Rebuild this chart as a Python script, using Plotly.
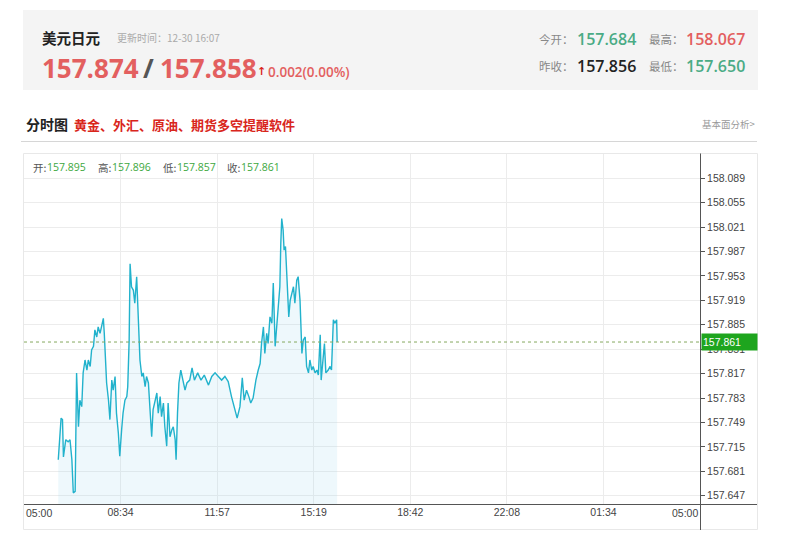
import plotly.graph_objects as go

# USD/JPY intraday (分时) quotes, 05:00 session start
times = [
    "06:13", "06:19", "06:22", "06:24", "06:29", "06:34", "06:38", "06:42", "06:45", "06:49",
    "06:52", "06:56", "06:59", "07:03", "07:06", "07:10", "07:14", "07:17", "07:21", "07:24",
    "07:28", "07:31", "07:35", "07:38", "07:42", "07:46", "07:49", "07:51", "07:56", "08:00",
    "08:03", "08:07", "08:10", "08:14", "08:17", "08:21", "08:24", "08:28", "08:31", "08:35",
    "08:39", "08:41", "08:44", "08:46", "08:49", "08:53", "08:56", "09:00", "09:02", "09:05",
    "09:07", "09:11", "09:14", "09:18", "09:21", "09:25", "09:28", "09:32", "09:35", "09:39",
    "09:43", "09:46", "09:50", "09:53", "09:57", "10:00", "10:04", "10:07", "10:11", "10:15",
    "10:18", "10:22", "10:24", "10:27", "10:30", "10:34", "10:37", "10:43", "10:47", "10:53",
    "10:58", "11:03", "11:10", "11:17", "11:24", "11:33", "11:40", "11:47", "11:54", "12:01",
    "12:08", "12:15", "12:22", "12:29", "12:34", "12:40", "12:45", "12:49", "12:54", "12:59",
    "13:03", "13:08", "13:14", "13:19", "13:23", "13:26", "13:30", "13:33", "13:37", "13:40",
    "13:44", "13:48", "13:51", "13:55", "13:58", "14:02", "14:05", "14:07", "14:09", "14:12",
    "14:14", "14:17", "14:21", "14:24", "14:27", "14:30", "14:34", "14:37", "14:41", "14:44",
    "14:48", "14:52", "14:55", "14:59", "15:02", "15:06", "15:09", "15:13", "15:16", "15:20",
    "15:24", "15:27", "15:31", "15:33", "15:36", "15:40", "15:43", "15:48", "15:52", "15:55",
    "15:59", "16:02", "16:06", "16:07",
]
prices = [
    157.697, 157.755, 157.753, 157.701, 157.725, 157.722, 157.725, 157.697, 157.651, 157.653,
    157.818, 157.743, 157.780, 157.771, 157.818, 157.836, 157.822, 157.836, 157.827, 157.850,
    157.855, 157.878, 157.868, 157.882, 157.873, 157.887, 157.894, 157.873, 157.804, 157.780,
    157.753, 157.808, 157.794, 157.813, 157.762, 157.734, 157.702, 157.739, 157.762, 157.780,
    157.785, 157.799, 157.864, 157.970, 157.938, 157.933, 157.915, 157.952, 157.919, 157.859,
    157.836, 157.813, 157.818, 157.799, 157.813, 157.804, 157.771, 157.729, 157.767, 157.780,
    157.790, 157.762, 157.785, 157.757, 157.776, 157.743, 157.716, 157.776, 157.729, 157.739,
    157.743, 157.725, 157.697, 157.762, 157.804, 157.822, 157.813, 157.794, 157.804, 157.808,
    157.825, 157.808, 157.818, 157.808, 157.815, 157.801, 157.813, 157.818, 157.813, 157.808,
    157.813, 157.806, 157.785, 157.769, 157.755, 157.771, 157.811, 157.780, 157.794, 157.785,
    157.776, 157.783, 157.808, 157.822, 157.831, 157.859, 157.882, 157.845, 157.873, 157.859,
    157.896, 157.887, 157.943, 157.855, 157.882, 157.910, 157.938, 157.998, 158.033, 158.017,
    157.989, 157.994, 157.933, 157.896, 157.919, 157.929, 157.938, 157.915, 157.947, 157.952,
    157.919, 157.845, 157.864, 157.868, 157.827, 157.818, 157.836, 157.822, 157.827, 157.818,
    157.822, 157.815, 157.871, 157.808, 157.827, 157.859, 157.818, 157.822, 157.827, 157.822,
    157.892, 157.887, 157.892, 157.861,
]

x_tick_labels = ["05:00", "08:34", "11:57", "15:19", "18:42", "22:08", "01:34", "05:00"]
y_tick_values = [157.647, 157.681, 157.715, 157.749, 157.783, 157.817, 157.851,
                 157.885, 157.919, 157.953, 157.987, 158.021, 158.055, 158.089]

# quote header
pair_name = "美元日元"
update_time = "12-30 16:07"
bid, ask = "157.874", "157.858"
change = "0.002(0.00%)"
today_open, day_high = "157.684", "158.067"
prev_close, day_low = "157.856", "157.650"
bar_open, bar_high, bar_low, bar_close = "157.895", "157.896", "157.857", "157.861"
last_price = 157.861

W, H = 800, 540
SESSION_START = 5 * 60
SPAN = 24 * 60


def px(x):
    return x / W


def py(y):
    return 1 - y / H


def offset(t):
    h, m = map(int, t.split(":"))
    return (h * 60 + m - SESSION_START) % SPAN


x_vals = [offset(t) for t in times]
n_ticks = len(x_tick_labels)
x_tick_pos = [i * SPAN / (n_ticks - 1) for i in range(n_ticks)]

PLOT_L, PLOT_R, PLOT_T, PLOT_B = 24, 700, 154, 504
PX_PER_STEP = 24.42
STEP = 0.034
y_min = y_tick_values[0] - (PLOT_B - 495.7) / PX_PER_STEP * STEP
y_max = y_tick_values[-1] + (178.3 - PLOT_T) / PX_PER_STEP * STEP

LINE = "#22b2cc"
RED = "#e35f5f"
GREEN = "#4aab85"
CJK = "Noto Sans CJK SC"
NUM = "Open Sans"

fig = go.Figure()
fig.add_trace(go.Scatter(
    x=x_vals, y=prices, mode="lines",
    line=dict(color=LINE, width=1.4),
    fill="tozeroy", fillcolor="rgba(170,222,240,0.2)",
    hoverinfo="skip", showlegend=False,
))

ann = []


def text(x, y, s, size, color, family=CJK, weight="normal", anchor="left"):
    ann.append(dict(xref="paper", yref="paper", x=px(x), y=py(y), text=s,
                    showarrow=False, xanchor=anchor, yanchor="middle",
                    font=dict(size=size, color=color, family=family, weight=weight)))


# header block
text(40, 37.5, pair_name, 14.5, "#222", weight="bold")
text(115, 37, "更新时间：" + update_time, 10, "#aaa")
text(40, 68, bid, 26, RED, family=NUM, weight=700)
text(141, 68, "/", 26, "#555", family=NUM, weight=700)
text(158, 68, ask, 26, RED, family=NUM, weight=700)
text(255, 71, "↑", 11, "#d9261c", family="DejaVu Sans", weight="bold")
text(266, 71.5, change, 13.5, RED, family=NUM, weight=600)

text(537, 38.5, "今开：", 11.5, "#888")
text(575, 38.5, today_open, 16, GREEN, family=NUM, weight=600)
text(647, 38.5, "最高：", 11.5, "#888")
text(684, 38.5, day_high, 16, RED, family=NUM, weight=600)
text(537, 66.5, "昨收：", 11.5, "#888")
text(575, 66.5, prev_close, 16, "#222", family=NUM, weight=600)
text(647, 66.5, "最低：", 11.5, "#888")
text(684, 66.5, day_low, 16, GREEN, family=NUM, weight=600)

# section title
text(24, 124, "分时图", 14, "#222", weight="bold")
text(72, 124, "黄金、外汇、原油、期货多空提醒软件", 13, "#d9261c", weight="bold")
text(757, 123.5, "基本面分析>", 9.5, "#999", anchor="right")

# OHLC readout inside the chart
BAR_GREEN = "#3da83d"
for lx, lab, vx, val in [(31, "开:", 45, bar_open), (96, "高:", 110, bar_high),
                         (161, "低:", 175, bar_low), (225, "收:", 239, bar_close)]:
    text(lx, 167.5, lab, 10.5, "#555")
    text(vx, 167.5, val, 10.5, BAR_GREEN, family=NUM)

# end labels of the time axis
ann.append(dict(xref="x", yref="paper", x=x_tick_pos[0], y=py(513), text=x_tick_labels[0],
                showarrow=False, xanchor="left", yanchor="middle",
                font=dict(size=10.5, color="#444", family="Liberation Sans")))
ann.append(dict(xref="x", yref="paper", x=x_tick_pos[-1], y=py(513), text=x_tick_labels[-1],
                showarrow=False, xanchor="right", yanchor="middle",
                font=dict(size=10.5, color="#444", family="Liberation Sans")))

# last-price tag on the price axis
ann.append(dict(xref="paper", yref="y", x=px(701), y=last_price, text=f"{last_price:.3f}",
                showarrow=False, xanchor="left", yanchor="middle", align="left",
                width=53, height=14, borderpad=1, bgcolor="#1ea51e",
                font=dict(size=10.5, color="white", family="Liberation Sans")))

shapes = [
    # header background
    dict(type="rect", xref="paper", yref="paper", x0=px(23), x1=px(758), y0=py(90), y1=py(10),
         fillcolor="#f4f4f4", line=dict(width=0), layer="below"),
    # title underline
    dict(type="line", xref="paper", yref="paper", x0=px(21), x1=px(757), y0=py(141.5), y1=py(141.5),
         line=dict(color="#d6d6d6", width=1)),
    # chart frame
    dict(type="rect", xref="paper", yref="paper", x0=px(23.5), x1=px(757.5), y0=py(529.5), y1=py(153.5),
         line=dict(color="#e8e8e8", width=1), layer="below"),
    # price axis line
    dict(type="line", xref="paper", yref="paper", x0=px(700.5), x1=px(700.5), y0=py(530), y1=py(153.5),
         line=dict(color="#555", width=1)),
    # time axis line
    dict(type="line", xref="paper", yref="paper", x0=px(24), x1=px(757), y0=py(504.5), y1=py(504.5),
         line=dict(color="#555", width=1)),
    # last-price reference
    dict(type="line", xref="x", yref="y", x0=0, x1=SPAN, y0=last_price, y1=last_price,
         line=dict(color="#86a860", width=1, dash="dot")),
]

fig.update_layout(
    width=W, height=H, margin=dict(l=0, r=0, t=0, b=0),
    paper_bgcolor="white", plot_bgcolor="white",
    showlegend=False, annotations=ann, shapes=shapes,
    xaxis=dict(
        domain=[px(PLOT_L), px(PLOT_R)], range=[0, SPAN],
        tickvals=x_tick_pos, ticktext=[""] + x_tick_labels[1:-1] + [""],
        showgrid=True, gridcolor="#ececec", gridwidth=1,
        zeroline=False, showline=False, ticks="",
        tickfont=dict(size=10.5, color="#444", family="Liberation Sans"),
        fixedrange=True,
    ),
    yaxis=dict(
        domain=[py(PLOT_B), py(PLOT_T)], range=[y_min, y_max], side="right",
        tickvals=y_tick_values, ticktext=[f"{v:.3f}" for v in y_tick_values],
        showgrid=True, gridcolor="#ececec", gridwidth=1,
        zeroline=False, showline=False, ticks="outside", ticklen=4, tickcolor="#555",
        tickfont=dict(size=10.5, color="#444", family="Liberation Sans"),
        fixedrange=True,
    ),
)

fig.write_html("out.html")
